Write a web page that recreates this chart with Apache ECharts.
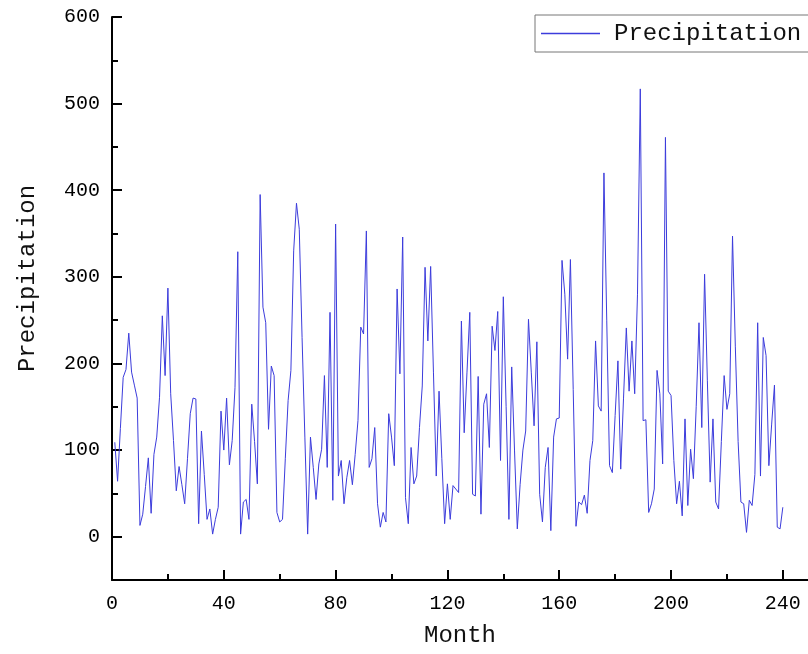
<!DOCTYPE html>
<html><head><meta charset="utf-8">
<script src="https://cdn.jsdelivr.net/npm/echarts@6/dist/echarts.min.js"></script>
<style>html,body{margin:0;padding:0;background:#fff}#c{width:808px;height:654px}</style>
</head><body><div id="c"></div>
<script>
// Month index of first value
const firstMonth = 1;
// Monthly precipitation (months 1..240)
const precipitation = [
 109, 64,125,184,193,235,190,175,160, 13,
  26, 58, 91, 27, 95,115,161,255,186,287,
 165,111, 53, 81, 60, 38, 90,142,160,159,
  15,122, 72, 20, 32,  3, 20, 34,145,100,
 160, 83,111,172,329,  3, 40, 43, 20,153,
 110, 61,395,265,247,124,197,186, 28, 17,
  20, 90,157,192,330,385,355,230,115,  3,
 115, 80, 43, 84,101,186, 80,259, 42,361,
  70, 88, 38, 68, 88, 60, 95,134,242,234,
 353, 80, 90,126, 38, 11, 28, 17,142,115,
  82,286,188,346, 45, 15,103, 61, 70,126,
 174,311,226,312,190, 70,168, 90, 15, 61,
  20, 59, 55, 51,249,120,190,259, 49, 47,
 185, 26,153,165,103,243,215,260, 88,277,
 150, 20,196,100,  9, 60,100,122,251,190,
 128,225, 49, 17, 80,103,  7,115,136,137,
 319,280,205,320,170, 12, 40, 37, 48, 27,
  88,111,226,151,145,420,250, 82, 74,140,
 203, 78,160,241,168,226,165,280,517,134,
 135, 28, 38, 55,192,165, 84,461,168,163,
  88, 38, 64, 24,136, 36,101, 67,150,247,
 126,303,180, 63,136, 40, 32,110,186,147,
 165,347,220,110, 40, 38,  5, 42, 36, 72,
 247, 70,230,209, 82,130,175, 11,  9, 34
];
const xMajorTicks = [0,40,80,120,160,200,240];
const xMinorTicks = [20,60,100,140,180,220];
const yMajorTicks = [0,100,200,300,400,500,600];
const yMinorTicks = [50,150,250,350,450,550];
const seriesName = 'Precipitation';
const xName = 'Month';
const yName = 'Precipitation';

const FONT = 'Liberation Mono';
const LINE = '#3c3cdc';
const data = precipitation.map((v, i) => [firstMonth + i, v]);

const chart = echarts.init(document.getElementById('c'), null, {renderer: 'canvas'});
const axisBase = {
  type: 'value', splitLine: {show: false}, scale: false
};
chart.setOption({
  animation: false,
  backgroundColor: '#fff',
  grid: {left: 112, top: 17, right: 0, bottom: 74, outerBoundsMode: 'none'},
  legend: {
    left: 535, top: 15, padding: [6, 40, 6, 6],
    itemWidth: 59, itemHeight: 1.5, icon: 'rect',
    itemStyle: {color: LINE},
    borderColor: '#777', borderWidth: 1,
    textStyle: {fontFamily: FONT, fontSize: 24, color: '#111', padding: [0, 0, 0, 9], lineHeight: 25},
    data: [seriesName]
  },
  xAxis: [
    Object.assign({}, axisBase, {
      min: 0, max: 249, interval: 20, position: 'bottom',
      axisLine: {onZero: false, lineStyle: {color: '#000', width: 2}},
      axisTick: {inside: true, length: 10, lineStyle: {color: '#000', width: 2}, customValues: xMajorTicks},
      axisLabel: {customValues: xMajorTicks, margin: 14, fontFamily: FONT, fontSize: 20, color: '#000'},
      name: xName, nameLocation: 'middle', nameGap: 44,
      nameTextStyle: {fontFamily: FONT, fontSize: 24, color: '#111'}
    }),
    Object.assign({}, axisBase, {
      min: 0, max: 249, interval: 20, position: 'bottom',
      axisLine: {show: false, onZero: false},
      axisTick: {inside: true, length: 6, lineStyle: {color: '#000', width: 2}, customValues: xMinorTicks},
      axisLabel: {show: false}
    })
  ],
  yAxis: [
    Object.assign({}, axisBase, {
      min: -50, max: 600, interval: 50, position: 'left',
      axisLine: {show: true, onZero: false, lineStyle: {color: '#000', width: 2}},
      axisTick: {show: true, inside: true, length: 10, lineStyle: {color: '#000', width: 2}, customValues: yMajorTicks},
      axisLabel: {customValues: yMajorTicks, margin: 12, fontFamily: FONT, fontSize: 20, color: '#000'},
      name: yName, nameLocation: 'middle', nameGap: 72,
      nameTextStyle: {fontFamily: FONT, fontSize: 24, color: '#111', padding: [0, 0, 0, 40]}
    }),
    Object.assign({}, axisBase, {
      min: -50, max: 600, interval: 50, position: 'left',
      axisLine: {show: false, onZero: false},
      axisTick: {show: true, inside: true, length: 6, lineStyle: {color: '#000', width: 2}, customValues: yMinorTicks},
      axisLabel: {show: false}
    })
  ],
  series: [{
    name: seriesName, type: 'line', xAxisIndex: 0, yAxisIndex: 0,
    data: data, symbol: 'none', showSymbol: false,
    lineStyle: {color: LINE, width: 1}, itemStyle: {color: LINE}
  }]
});
</script></body></html>
